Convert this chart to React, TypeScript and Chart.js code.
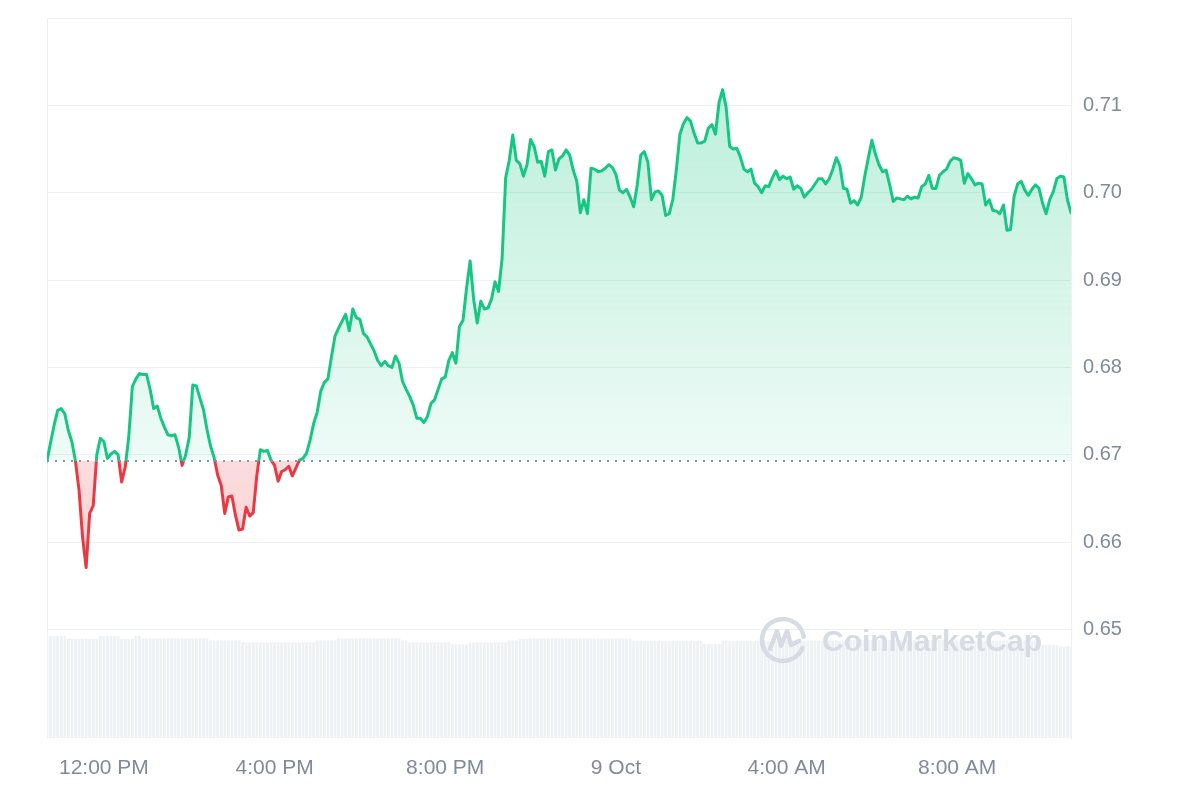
import React, { useEffect, useRef } from 'react';
import { Chart, registerables } from 'chart.js';

Chart.register(...registerables);

// Time axis: minutes since 8 Oct 00:00, one sample every 5 minutes
const START_MIN = 640; // 10:40 AM
const STEP_MIN = 5;
const BASELINE = 0.6693; // opening price (dotted reference line)

const prices: number[] = [
  0.6693, 0.6714, 0.6734, 0.6751, 0.6753, 0.6747, 0.6728, 0.6715, 0.6693, 0.6660,
  0.6606, 0.6571, 0.6633, 0.6642, 0.6700, 0.6719, 0.6715, 0.6696, 0.6701, 0.6704,
  0.6700, 0.6669, 0.6686, 0.6721, 0.6778, 0.6787, 0.6793, 0.6792, 0.6792, 0.6775,
  0.6753, 0.6756, 0.6742, 0.6732, 0.6723, 0.6722, 0.6723, 0.6709, 0.6688, 0.6700,
  0.6720, 0.6780, 0.6779, 0.6765, 0.6752, 0.6729, 0.6710, 0.6697, 0.6677, 0.6665,
  0.6633, 0.6652, 0.6653, 0.6631, 0.6614, 0.6615, 0.6640, 0.6630, 0.6634, 0.6676,
  0.6706, 0.6704, 0.6705, 0.6694, 0.6688, 0.6670, 0.6681, 0.6683, 0.6687, 0.6676,
  0.6685, 0.6694, 0.6696, 0.6702, 0.6717, 0.6736, 0.6749, 0.6773, 0.6783, 0.6787,
  0.6812, 0.6836, 0.6845, 0.6853, 0.6861, 0.6842, 0.6867, 0.6857, 0.6855, 0.6839,
  0.6835, 0.6827, 0.6819, 0.6808, 0.6802, 0.6807, 0.6802, 0.6800, 0.6813, 0.6805,
  0.6784, 0.6775, 0.6767, 0.6757, 0.6742, 0.6742, 0.6737, 0.6744, 0.6759, 0.6763,
  0.6775, 0.6787, 0.6789, 0.6808, 0.6817, 0.6805, 0.6847, 0.6854, 0.6891, 0.6922,
  0.6878, 0.6851, 0.6876, 0.6867, 0.6868, 0.6878, 0.6898, 0.6887, 0.6925, 0.7017,
  0.7037, 0.7066, 0.7037, 0.7033, 0.7019, 0.7032, 0.7061, 0.7053, 0.7035, 0.7036,
  0.7019, 0.7047, 0.7049, 0.7026, 0.7039, 0.7042, 0.7049, 0.7043, 0.7026, 0.7013,
  0.6977, 0.6992, 0.6976, 0.7028, 0.7027, 0.7024, 0.7025, 0.7028, 0.7032, 0.7029,
  0.7021, 0.7003, 0.7000, 0.7004, 0.6995, 0.6984, 0.7009, 0.7043, 0.7047, 0.7035,
  0.6992, 0.7001, 0.7002, 0.6997, 0.6974, 0.6976, 0.6992, 0.7026, 0.7067, 0.7079,
  0.7086, 0.7082, 0.7068, 0.7057, 0.7057, 0.7059, 0.7074, 0.7078, 0.7067, 0.7103,
  0.7118, 0.7098, 0.7053, 0.7050, 0.7051, 0.7041, 0.7027, 0.7024, 0.7027, 0.7011,
  0.7007, 0.7000, 0.7008, 0.7007, 0.7017, 0.7025, 0.7015, 0.7019, 0.7016, 0.7018,
  0.7004, 0.7008, 0.7005, 0.6995, 0.7000, 0.7004, 0.7010, 0.7016, 0.7016, 0.7010,
  0.7016, 0.7027, 0.7040, 0.7031, 0.7005, 0.7004, 0.6988, 0.6991, 0.6986, 0.6995,
  0.7019, 0.7040, 0.7060, 0.7044, 0.7032, 0.7024, 0.7026, 0.7009, 0.6990, 0.6994,
  0.6993, 0.6992, 0.6996, 0.6993, 0.6995, 0.6994, 0.7007, 0.7010, 0.7020, 0.7005,
  0.7005, 0.7020, 0.7024, 0.7027, 0.7036, 0.7040, 0.7039, 0.7037, 0.7011, 0.7022,
  0.7016, 0.7009, 0.7011, 0.7010, 0.6986, 0.6992, 0.6980, 0.6979, 0.6976, 0.6986,
  0.6957, 0.6958, 0.6996, 0.7010, 0.7013, 0.7003, 0.6997, 0.7004, 0.7009, 0.7005,
  0.6988, 0.6976, 0.6992, 0.7001, 0.7016, 0.7019, 0.7018, 0.6992, 0.6977,
];

// 24h volume (millions), one per sample
const volumes: number[] = [
  20.4, 20.4, 20.4, 20.4, 20.4, 20.4, 19.86, 19.86, 19.86, 19.86,
  19.86, 19.86, 19.86, 19.86, 19.86, 20.4, 20.4, 20.4, 20.4, 20.4,
  20.4, 19.86, 19.86, 19.86, 19.86, 20.4, 20.4, 19.94, 19.94, 19.94,
  19.94, 19.94, 19.94, 19.94, 19.94, 19.94, 19.94, 19.94, 19.94, 19.94,
  19.94, 19.94, 19.94, 19.94, 19.94, 19.94, 19.54, 19.54, 19.54, 19.54,
  19.54, 19.54, 19.54, 19.54, 19.54, 19.14, 19.14, 19.14, 19.14, 19.14,
  19.14, 19.14, 19.14, 19.14, 19.14, 19.14, 19.14, 19.14, 19.14, 19.14,
  19.14, 19.14, 19.14, 19.14, 19.14, 19.14, 19.54, 19.54, 19.54, 19.54,
  19.54, 19.54, 19.94, 19.94, 19.94, 19.94, 19.94, 19.94, 19.94, 19.94,
  19.94, 19.94, 19.94, 19.94, 19.94, 19.94, 19.94, 19.94, 19.94, 19.94,
  19.54, 19.54, 19.14, 19.14, 19.14, 19.14, 19.14, 19.14, 19.14, 19.14,
  19.14, 19.14, 19.14, 19.14, 18.74, 18.74, 18.74, 18.74, 18.74, 19.14,
  19.14, 19.14, 19.14, 19.14, 19.14, 19.14, 19.14, 19.14, 19.14, 19.14,
  19.54, 19.54, 19.54, 19.86, 19.86, 19.86, 19.94, 19.94, 19.94, 19.94,
  19.94, 19.94, 19.94, 19.94, 19.94, 19.94, 19.94, 19.94, 19.94, 19.94,
  19.94, 19.94, 19.9, 19.9, 19.9, 19.9, 19.9, 19.9, 19.9, 19.9,
  19.9, 19.9, 19.9, 19.9, 19.9, 19.4, 19.4, 19.4, 19.4, 19.4,
  19.4, 19.4, 19.4, 19.4, 19.4, 19.4, 19.4, 19.4, 19.4, 19.4,
  19.4, 19.4, 19.4, 19.4, 19.4, 18.8, 18.8, 18.8, 18.8, 18.8,
  19.4, 19.4, 19.4, 19.4, 19.4, 19.4, 19.4, 19.4, 19.4, 19.4,
  19.4, 19.5, 19.5, 19.5, 19.5, 19.5, 19.5, 19.5, 19.5, 19.5,
  19.5, 19.5, 19.5, 19.5, 19.5, 19.5, 19.5, 19.5, 19.5, 19.5,
  19.5, 19.5, 19.5, 19.5, 19.5, 19.5, 19.6, 19.6, 19.6, 19.6,
  19.6, 19.6, 19.6, 19.6, 19.6, 19.6, 19.6, 19.6, 19.6, 19.6,
  19.6, 19.6, 19.6, 19.6, 19.6, 19.6, 19.6, 19.6, 19.6, 19.6,
  19.6, 19.6, 19.6, 19.6, 19.5, 19.5, 19.5, 19.5, 19.5, 19.5,
  19.5, 19.5, 19.5, 19.5, 19.5, 19.5, 19.5, 19.5, 19.5, 19.5,
  19.5, 19.5, 19.5, 19.5, 19.5, 19.5, 19.5, 19.5, 19.5, 19.5,
  18.6, 18.6, 18.6, 18.6, 18.6, 18.3, 18.3, 18.3, 18.3,
];

const xTickValues = [640, 720, 960, 1200, 1440, 1680, 1920];
const xTickLabels = ['', '12:00 PM', '4:00 PM', '8:00 PM', '9 Oct', '4:00 AM', '8:00 AM'];
const yTickValues = [0.65, 0.66, 0.67, 0.68, 0.69, 0.7, 0.71, 0.72];
const yTickLabels = ['0.65', '0.66', '0.67', '0.68', '0.69', '0.70', '0.71', ''];

const GREEN = '#16c784';
const RED = '#ea3943';
const GRID = '#eff0f2';
const TEXT = '#808a9d';
const FONT = '"Liberation Sans", Arial, sans-serif';

export default function App() {
  const canvasRef = useRef<HTMLCanvasElement | null>(null);

  useEffect(() => {
    const canvas = canvasRef.current;
    if (!canvas) return;

    const times = prices.map((_, i) => START_MIN + i * STEP_MIN);
    const endMin = times[times.length - 1];

    const watermark = {
      id: 'watermark',
      afterDatasetsDraw(chart: any) {
        const c = chart.ctx as CanvasRenderingContext2D;
        c.save();
        c.strokeStyle = '#d6dbe4';
        c.fillStyle = '#d6dbe4';
        c.lineWidth = 4.5;
        c.lineCap = 'round';
        c.lineJoin = 'round';
        const cx = 783, cy = 640, r = 21;
        c.beginPath();
        c.arc(cx, cy, r, 0.12 * Math.PI, 1.95 * Math.PI);
        c.stroke();
        c.beginPath();
        c.moveTo(cx - 13, cy + 9);
        c.lineTo(cx - 6, cy - 9);
        c.lineTo(cx - 2, cy + 6);
        c.lineTo(cx + 4, cy - 9);
        c.lineTo(cx + 8, cy + 5);
        c.lineTo(cx + 16, cy + 1);
        c.stroke();
        c.font = 'bold 30px ' + FONT;
        c.textBaseline = 'alphabetic';
        c.textAlign = 'left';
        c.fillText('CoinMarketCap', 822, 651);
        c.restore();
      },
    };

    const chart = new Chart(canvas, {
      type: 'line',
      data: {
        datasets: [
          {
            type: 'line',
            label: 'Open',
            data: [
              { x: START_MIN, y: BASELINE },
              { x: endMin, y: BASELINE },
            ],
            borderColor: '#8d93a0',
            borderWidth: 2,
            borderDash: [2, 6],
            pointRadius: 0,
            fill: false,
            order: 0,
          },
          {
            type: 'line',
            label: 'Price',
            data: times.map((t, i) => ({ x: t, y: prices[i] })),
            borderColor: GREEN,
            borderWidth: 3,
            borderJoinStyle: 'round',
            borderCapStyle: 'round',
            pointRadius: 0,
            tension: 0,
            fill: { value: BASELINE, above: 'rgba(22,199,132,0.2)', below: 'rgba(234,57,67,0.2)' },
            order: 1,
          } as any,
          {
            type: 'bar',
            label: 'Volume',
            data: times.map((t, i) => ({ x: t, y: volumes[i] })),
            backgroundColor: '#eff2f5',
            yAxisID: 'yVol',
            barPercentage: 1,
            categoryPercentage: 0.82,
            order: 2,
          } as any,
        ],
      },
      options: {
        animation: false,
        responsive: true,
        maintainAspectRatio: false,
        layout: { padding: { left: 47, top: 18, right: 49, bottom: 12 } },
        plugins: { legend: { display: false }, tooltip: { enabled: false } },
        scales: {
          x: {
            type: 'linear',
            min: START_MIN,
            max: endMin,
            offset: false,
            afterBuildTicks: (s: any) => {
              s.ticks = xTickValues.map((v) => ({ value: v }));
            },
            afterFit: (s: any) => {
              s.height = 50;
              s.paddingLeft = 0;
              s.paddingRight = 0;
            },
            ticks: {
              callback: (_v: any, i: number) => xTickLabels[i],
              color: TEXT,
              font: { family: FONT, size: 21 },
              padding: 18,
              maxRotation: 0,
              autoSkip: false,
            },
            grid: {
              offset: false,
              drawTicks: false,
              color: (ctx: any) => (ctx.index === 0 ? GRID : 'rgba(0,0,0,0)'),
              lineWidth: 1,
            },
            border: { display: false },
          },
          y: {
            type: 'linear',
            position: 'right',
            min: 0.6376,
            max: 0.72,
            afterBuildTicks: (s: any) => {
              s.ticks = yTickValues.map((v) => ({ value: v }));
            },
            afterFit: (s: any) => {
              s.width = 80;
              s.paddingTop = 0;
              s.paddingBottom = 0;
            },
            ticks: {
              callback: (_v: any, i: number) => yTickLabels[i],
              color: TEXT,
              font: { family: FONT, size: 20 },
              padding: 12,
            },
            grid: { color: GRID, drawTicks: false, lineWidth: 1 },
            border: { display: true, color: GRID },
          },
          yVol: {
            type: 'linear',
            display: false,
            min: 0,
            max: 144,
          },
        },
      } as any,
      plugins: [watermark],
    });

    // gradients depend on the laid-out chart area
    const area = chart.chartArea;
    const by = chart.scales.y.getPixelForValue(BASELINE);
    const c = chart.ctx;
    const gAbove = c.createLinearGradient(0, area.top, 0, by);
    gAbove.addColorStop(0, 'rgba(22,199,132,0.33)');
    gAbove.addColorStop(1, 'rgba(22,199,132,0.07)');
    const gBelow = c.createLinearGradient(0, by, 0, area.bottom);
    gBelow.addColorStop(0, 'rgba(234,57,67,0.18)');
    gBelow.addColorStop(1, 'rgba(234,57,67,0.25)');
    const stop = (by - area.top) / (area.bottom - area.top);
    const gLine = c.createLinearGradient(0, area.top, 0, area.bottom);
    gLine.addColorStop(0, GREEN);
    gLine.addColorStop(stop, GREEN);
    gLine.addColorStop(stop, RED);
    gLine.addColorStop(1, RED);
    const ds: any = chart.data.datasets[1];
    ds.fill = { value: BASELINE, above: gAbove, below: gBelow };
    ds.borderColor = gLine;
    chart.update('none');

    return () => chart.destroy();
  }, []);

  return (
    <div style={{ position: 'fixed', left: 0, top: 0, width: 1200, height: 800, background: '#fff' }}>
      <canvas ref={canvasRef} />
    </div>
  );
}
